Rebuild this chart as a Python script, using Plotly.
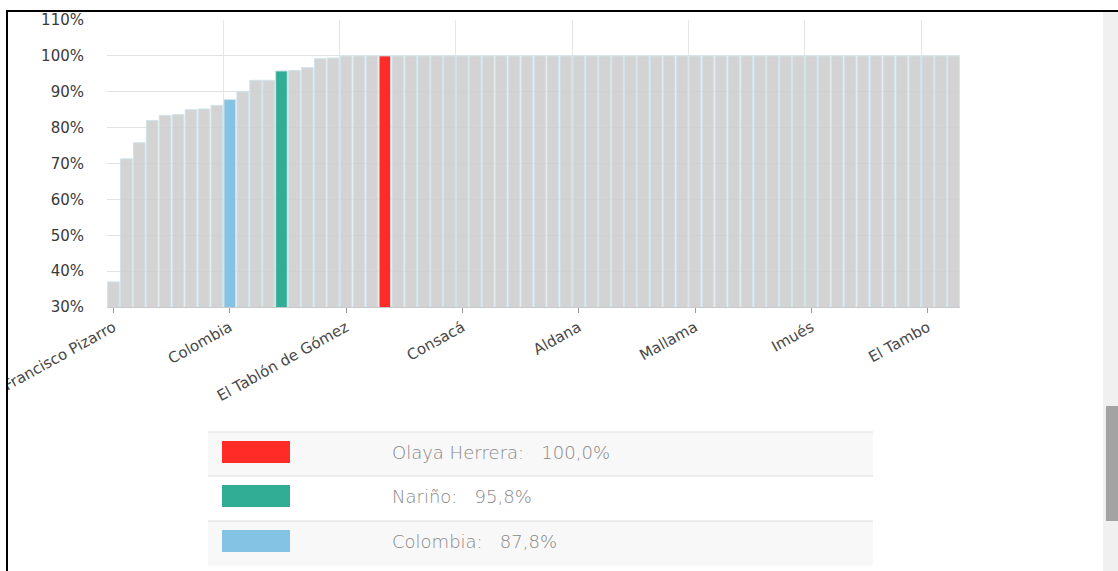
import plotly.graph_objects as go

# ---------------- data ----------------
values = [37.0, 71.3, 75.8, 82.0, 83.4, 83.6, 85.0, 85.2, 86.2, 87.8,
          90.0, 93.2, 93.2, 95.8, 95.9, 96.7, 99.2, 99.4, 100.0, 100.0,
          100.0, 100.0, 100.0, 100.0, 100.0, 100.0, 100.0, 100.0, 100.0, 100.0,
          100.0, 100.0, 100.0, 100.0, 100.0, 100.0, 100.0, 100.0, 100.0, 100.0,
          100.0, 100.0, 100.0, 100.0, 100.0, 100.0, 100.0, 100.0, 100.0, 100.0,
          100.0, 100.0, 100.0, 100.0, 100.0, 100.0, 100.0, 100.0, 100.0, 100.0,
          100.0, 100.0, 100.0, 100.0, 100.0, 100.0]
positions = list(range(len(values)))
tick_positions = [0, 9, 18, 27, 36, 45, 54, 63]
tick_labels = ["Francisco Pizarro", "Colombia", "El Tablón de Gómez", "Consacá",
               "Aldana", "Mallama", "Imués", "El Tambo"]
highlight_positions = [21, 13, 9]
highlight_names = ["Olaya Herrera", "Nariño", "Colombia"]
highlight_values = ["100,0%", "95,8%", "87,8%"]
highlight_colors = ["#ff2b27", "#31ad96", "#84c3e4"]
y_ticks = [30, 40, 50, 60, 70, 80, 90, 100, 110]
y_tick_labels = ["30%", "40%", "50%", "60%", "70%", "80%", "90%", "100%", "110%"]

# ---------------- styles ----------------
W, H = 1118, 571
L, R, T, B = 107, 158, 20, 264
PW, PH = W - L - R, H - T - B
GRAY = "rgba(205,205,205,0.88)"


def px(x):
    return (x - L) / PW


def py(y):
    return (H - B - y) / PH


colors = [GRAY] * len(values)
for p, c in zip(highlight_positions, highlight_colors):
    colors[p] = c

fig = go.Figure()
fig.add_trace(go.Bar(
    x=positions, y=values,
    marker=dict(color=colors, line=dict(color="#cfe3ea", width=1)),
    showlegend=False, hoverinfo="skip",
))

boundaries = [p - 0.5 for p in tick_positions]

fig.update_layout(
    width=W, height=H,
    margin=dict(l=L, r=R, t=T, b=B, pad=0),
    paper_bgcolor="white", plot_bgcolor="white",
    bargap=0.1,
    font=dict(family="DejaVu Sans", size=14, color="#444444"),
    xaxis=dict(
        range=[-0.5, len(values) - 0.5], automargin=False,
        tickmode="array", tickvals=tick_positions, ticktext=tick_labels,
        tickangle=-29, showgrid=False, zeroline=False,
        showline=True, linecolor="#c9c9c9", linewidth=1,
        ticks="outside", ticklen=5, tickcolor="#9a9a9a", tickwidth=1,
        tickfont=dict(family="DejaVu Sans", size=15, color="#484848"),
        minor=dict(tickmode="array", tickvals=boundaries, showgrid=True,
                   gridcolor="#e6e6e6", gridwidth=1, ticks=""),
    ),
    yaxis=dict(
        range=[30, 110], automargin=False,
        tickmode="array", tickvals=y_ticks, ticktext=y_tick_labels,
        showgrid=True, gridcolor="#e3e3e3", gridwidth=1,
        zeroline=False, showline=False, ticks="",
        ticklabelstandoff=22,
        tickfont=dict(family="DejaVu Sans", size=15, color="#3a3a3a"),
    ),
)

shapes = []
# white page margin left of the frame (clips overflowing labels)
shapes.append(dict(type="rect", xref="paper", yref="paper",
                   x0=px(0), x1=px(6), y0=py(0), y1=py(H),
                   fillcolor="white", line=dict(width=0), layer="above"))
# page frame (black top and left borders)
shapes.append(dict(type="line", xref="paper", yref="paper",
                   x0=px(6), x1=px(W), y0=py(11), y1=py(11),
                   line=dict(color="black", width=2), layer="above"))
shapes.append(dict(type="line", xref="paper", yref="paper",
                   x0=px(7), x1=px(7), y0=py(11), y1=py(H),
                   line=dict(color="black", width=2), layer="above"))
# scrollbar
shapes.append(dict(type="rect", xref="paper", yref="paper",
                   x0=px(1103), x1=px(W), y0=py(12), y1=py(H),
                   fillcolor="#f0f0f0", line=dict(width=0), layer="above"))
shapes.append(dict(type="rect", xref="paper", yref="paper",
                   x0=px(1106), x1=px(W), y0=py(406), y1=py(521),
                   fillcolor="#a3a3a3", line=dict(width=0), layer="above"))

# custom legend table
row_tops = [432, 476, 521]
row_h = 45
row_fills = ["#f8f8f8", "#ffffff", "#f8f8f8"]
annotations = []
for i, (name, val, col) in enumerate(zip(highlight_names, highlight_values, highlight_colors)):
    top = row_tops[i]
    shapes.append(dict(type="rect", xref="paper", yref="paper",
                       x0=px(208), x1=px(873), y0=py(top + row_h), y1=py(top),
                       fillcolor=row_fills[i], line=dict(width=0)))
    shapes.append(dict(type="line", xref="paper", yref="paper",
                       x0=px(208), x1=px(873), y0=py(top), y1=py(top),
                       line=dict(color="#dedede", width=1)))
    shapes.append(dict(type="rect", xref="paper", yref="paper",
                       x0=px(222), x1=px(290), y0=py(top + 31), y1=py(top + 9),
                       fillcolor=col, line=dict(width=0)))
    annotations.append(dict(
        xref="paper", yref="paper", x=px(390), y=py(top + 20),
        xanchor="left", yanchor="middle", showarrow=False,
        text=f"{name}:\u00a0\u00a0\u00a0{val}",
        font=dict(family="DejaVu Sans", size=18, color="#878787", weight=200),
    ))

fig.update_layout(shapes=shapes, annotations=annotations)

fig.write_html("out.html", config={"displayModeBar": False},
               post_script="document.body.style.margin='0';")
